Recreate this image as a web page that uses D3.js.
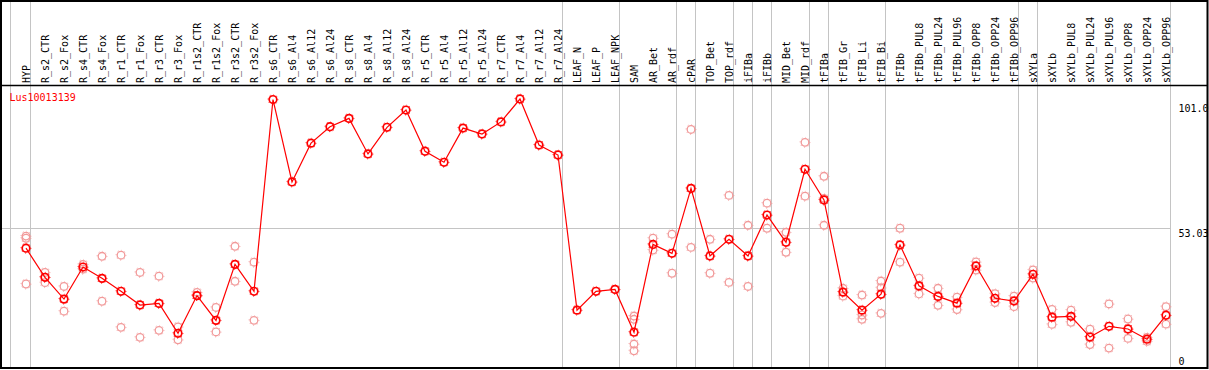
<!DOCTYPE html>
<html>
<head>
<meta charset="utf-8">
<script src="https://cdn.jsdelivr.net/npm/d3@7"></script>
<style>
    body { margin: 0; background: #fff; }
    text { font-family: "DejaVu Sans Mono", "Liberation Mono", monospace; font-size: 10px; }
</style>
</head>
<body>
<div id="chart"></div>
<script>
// sample columns, left to right
const columns = ["HYP", "R_s2_CTR", "R_s2_Fox", "R_s4_CTR", "R_s4_Fox", "R_r1_CTR", "R_r1_Fox",
    "R_r3_CTR", "R_r3_Fox", "R_r1s2_CTR", "R_r1s2_Fox", "R_r3s2_CTR", "R_r3s2_Fox",
    "R_s6_CTR", "R_s6_Al4", "R_s6_Al12", "R_s6_Al24", "R_s8_CTR", "R_s8_Al4", "R_s8_Al12", "R_s8_Al24",
    "R_r5_CTR", "R_r5_Al4", "R_r5_Al12", "R_r5_Al24", "R_r7_CTR", "R_r7_Al4", "R_r7_Al12", "R_r7_Al24",
    "LEAF_N", "LEAF_P", "LEAF_NPK", "SAM", "AR_Bet", "AR_rdf", "cPAR", "TOP_Bet", "TOP_rdf",
    "iFIBa", "iFIBb", "MID_Bet", "MID_rdf", "tFIBa", "tFIB_Gr", "tFIB_Li", "tFIB_Bi",
    "tFIBb", "tFIBb_PUL8", "tFIBb_PUL24", "tFIBb_PUL96", "tFIBb_OPP8", "tFIBb_OPP24", "tFIBb_OPP96",
    "sXYLa", "sXYLb", "sXYLb_PUL8", "sXYLb_PUL24", "sXYLb_PUL96", "sXYLb_OPP8", "sXYLb_OPP24", "sXYLb_OPP96"];

// mean expression per column
const meanValues = [45.6, 34.8, 26.7, 38.6, 34.4, 29.6, 24.5, 25.1, 14.0, 28.0, 18.8, 39.6, 29.6,
    100.8, 70.2, 84.6, 90.7, 93.8, 80.6, 90.5, 96.9, 81.6, 77.5, 90.2, 88.0, 92.5, 101.0, 83.9, 80.2,
    22.6, 29.6, 30.3, 14.4, 47.0, 43.7, 67.8, 42.7, 48.9, 42.7, 57.9, 47.8, 74.9, 63.5,
    29.3, 22.6, 28.5, 46.8, 31.6, 27.7, 25.2, 39.0, 27.0, 26.0,
    35.9, 20.0, 20.3, 12.6, 16.6, 15.6, 11.8, 20.7];

// individual replicates (empty where none shown)
const replicateValues = [
    [50.1, 49.3, 32.3], [36.6, 34.8, 32.8], [31.4, 22.2], [39.6, 37.8], [42.6, 25.9],
    [43.0, 16.2], [36.6, 12.5], [35.2, 15.1], [16.4, 11.6], [29.2, 28.0], [23.6, 14.5],
    [46.3, 33.3], [40.4, 18.8],
    [], [], [], [], [], [], [], [], [], [], [], [], [], [], [], [],
    [], [], [],
    [20.4, 19.2, 10.0, 7.5], [49.3, 44.9], [50.8, 36.3], [89.7, 45.9], [48.9, 36.3], [65.2, 32.9],
    [54.1, 31.4], [62.3, 53.0], [51.5, 44.1], [84.9, 64.9], [72.3, 64.1, 54.1],
    [30.7, 27.8], [28.2, 20.8, 19.2], [33.4, 30.9, 21.4],
    [53.0, 40.4], [34.5, 28.6], [30.7, 24.4], [27.4, 22.8], [40.5, 37.5], [28.7, 25.4], [27.8, 23.9],
    [37.5, 34.5], [22.9, 17.3], [22.6, 18.1], [15.5, 9.8], [24.9, 8.5], [19.3, 12.1], [12.5, 11.0], [23.9, 17.4]];

// group boundaries: a grey line follows each of these columns
const separatorAfter = ["HYP", "R_r7_Al24", "LEAF_NPK", "AR_rdf", "cPAR", "TOP_rdf", "iFIBa", "iFIBb",
    "MID_rdf", "tFIBa", "tFIB_Bi", "tFIBb_OPP96", "sXYLa", "sXYLb_OPP96"];

const axisValues = [101.0, 53.03, 0];
const axisLabels = ["101.0", "53.03", "0"];
const geneName = "Lus10013139";

class ProfileVis {

    constructor(parentElement) {
        this.parentElement = parentElement;
        this.initVis();
    }

    initVis() {
        let vis = this;

        vis.width = 1209;
        vis.height = 370;
        vis.headerBottom = 85;
        vis.plotBottom = 368;

        vis.svg = d3.select("#" + vis.parentElement).append("svg")
            .attr("width", vis.width)
            .attr("height", vis.height);

        vis.svg.append("rect")
            .attr("width", vis.width)
            .attr("height", vis.height)
            .attr("fill", "#fff");

        // scales
        vis.x = d3.scalePoint()
            .domain(columns)
            .range([26, 1166]);

        vis.y = d3.scaleLinear()
            .domain([0, 101])
            .range([371, 99]);

        vis.clip = vis.svg.append("clipPath").attr("id", "plot-clip")
            .append("rect")
            .attr("x", 2).attr("y", vis.headerBottom + 1)
            .attr("width", 1205).attr("height", vis.plotBottom - vis.headerBottom - 1);

        vis.drawGrid();
        vis.drawData();
        vis.drawFrame();
    }

    drawGrid() {
        let vis = this;

        // vertical separators run through the header too
        let sepX = [vis.x(columns[0]) - 15.5].concat(separatorAfter.map(c => vis.x(c) + 4.7));
        vis.svg.append("g").selectAll("line")
            .data(sepX)
            .enter().append("line")
            .attr("x1", d => Math.floor(d) + 0.5)
            .attr("x2", d => Math.floor(d) + 0.5)
            .attr("y1", 0)
            .attr("y2", vis.plotBottom)
            .attr("stroke", "#c4c4c4")
            .attr("stroke-width", 1);

        // horizontal line at the middle value
        vis.svg.append("line")
            .attr("x1", 0)
            .attr("x2", Math.floor(vis.x(columns[columns.length - 1]) + 4.7) + 0.5)
            .attr("y1", Math.round(vis.y(axisValues[1])) + 0.5)
            .attr("y2", Math.round(vis.y(axisValues[1])) + 0.5)
            .attr("stroke", "#c4c4c4")
            .attr("stroke-width", 1);

        // column headers
        vis.svg.append("g").selectAll("text")
            .data(columns)
            .enter().append("text")
            .attr("transform", d => `translate(${vis.x(d) + 3.5}, ${vis.headerBottom - 2}) rotate(-90)`)
            .attr("fill", "#000")
            .text(d => d);

        // value labels at the right
        vis.svg.append("g").selectAll("text")
            .data(axisValues)
            .enter().append("text")
            .attr("x", 1178.5)
            .attr("y", d => Math.min(Math.max(vis.y(d) + 8.5, 111.5), 365))
            .attr("fill", "#000")
            .text((d, i) => axisLabels[i]);

        vis.svg.append("text")
            .attr("x", 9.5)
            .attr("y", 100.5)
            .attr("fill", "#ff0000")
            .text(geneName);
    }

    drawData() {
        let vis = this;

        let g = vis.svg.append("g").attr("clip-path", "url(#plot-clip)");

        let reps = [];
        replicateValues.forEach((arr, i) => arr.forEach(v => reps.push({col: columns[i], value: v})));

        vis.drawMarkers(g, reps, "#f29a9a", 1.3);

        let line = d3.line()
            .x((d, i) => vis.x(columns[i]))
            .y(d => vis.y(d));

        g.append("path")
            .datum(meanValues)
            .attr("d", line)
            .attr("fill", "none")
            .attr("stroke", "#ff0000")
            .attr("stroke-width", 1.2);

        vis.drawMarkers(g, meanValues.map((v, i) => ({col: columns[i], value: v})), "#ff0000", 1.7);
    }

    drawMarkers(g, data, color, sw) {
        let vis = this;

        let m = g.append("g").selectAll("g")
            .data(data)
            .enter().append("g")
            .attr("transform", d => `translate(${vis.x(d.col)}, ${vis.y(d.value)})`);

        m.append("circle")
            .attr("r", 3.8)
            .attr("fill", "none")
            .attr("stroke", color)
            .attr("stroke-width", sw);

        // little tick marks around the ring
        m.append("circle")
            .attr("r", 4.9)
            .attr("fill", "none")
            .attr("stroke", color)
            .attr("stroke-width", 1)
            .attr("stroke-dasharray", `1 ${(2 * Math.PI * 4.9) / 8 - 1}`)
            .attr("stroke-dashoffset", 0.5)
            .attr("transform", "rotate(-90)");
    }

    drawFrame() {
        let vis = this;

        vis.svg.append("rect")
            .attr("x", 1)
            .attr("y", 1)
            .attr("width", 1206.5)
            .attr("height", vis.plotBottom - 1)
            .attr("fill", "none")
            .attr("stroke", "#000")
            .attr("stroke-width", 2);

        vis.svg.append("line")
            .attr("x1", 0).attr("x2", 1208)
            .attr("y1", vis.headerBottom + 0.5).attr("y2", vis.headerBottom + 0.5)
            .attr("stroke", "#000")
            .attr("stroke-width", 1.5);
    }
}

new ProfileVis("chart");
</script>
</body>
</html>
